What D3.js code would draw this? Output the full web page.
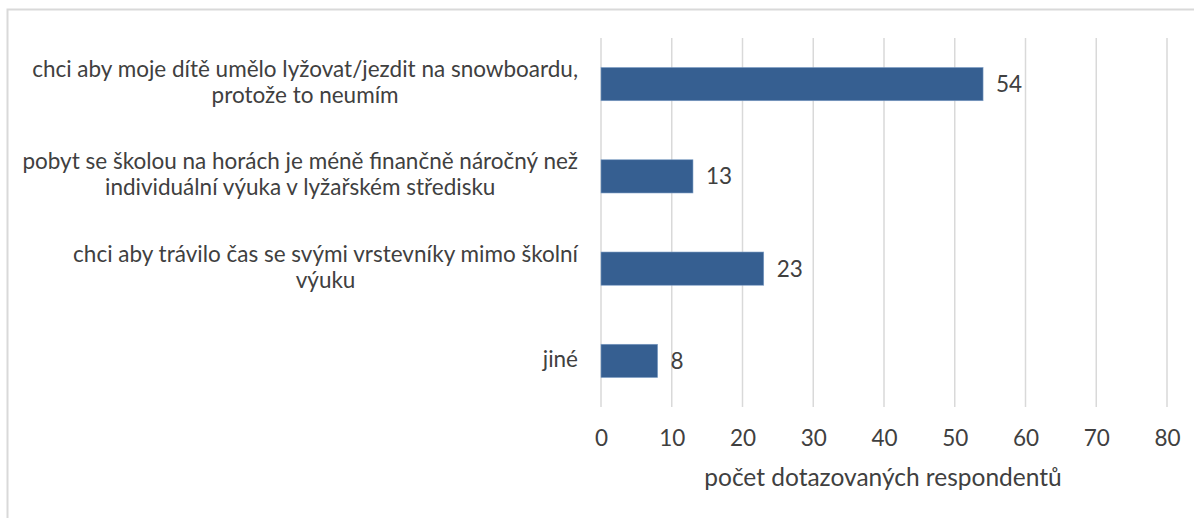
<!DOCTYPE html>
<html><head><meta charset="utf-8">
<script src="https://cdn.jsdelivr.net/npm/d3@7"></script>
<style>
html,body{margin:0;padding:0;background:#fff;}
svg text{font-family:Lato, "Open Sans", sans-serif;fill:#404040;}
</style></head>
<body><svg id="c" width="1194" height="518"></svg>
<script>
const categories = [
  ["chci aby moje dítě umělo lyžovat/jezdit na snowboardu,", "protože to neumím"],
  ["pobyt se školou na horách je méně finančně náročný než", "individuální výuka v lyžařském středisku"],
  ["chci aby trávilo čas se svými vrstevníky mimo školní", "výuku"],
  ["jiné"]
];
const values = [54, 13, 23, 8];
const xTicks = [0, 10, 20, 30, 40, 50, 60, 70, 80];
const xTitle = "počet dotazovaných respondentů";

const FS = "22.5px";
const svg = d3.select("#c");
const margin = {left: 601, right: 27, top: 38, bottom: 111};
const W = 1194, H = 518;

svg.append("rect").attr("x", 7.5).attr("y", 9.5).attr("width", 1300).attr("height", 600)
  .attr("fill", "none").attr("stroke", "#d9d9d9").attr("stroke-width", 2);

const x = d3.scaleLinear().domain([0, 80]).range([margin.left, W - margin.right]);
const y = d3.scaleBand().domain(d3.range(categories.length)).range([margin.top, H - margin.bottom]).paddingInner(0.64).paddingOuter(0.32);

// gridlines
svg.append("g").selectAll("line").data(xTicks).join("line")
  .attr("x1", d => x(d)).attr("x2", d => x(d))
  .attr("y1", margin.top).attr("y2", H - margin.bottom)
  .attr("stroke", "#d9d9d9").attr("stroke-width", 1.5);

// x axis labels
const xAxis = d3.axisBottom(x).tickValues(xTicks).tickSize(0).tickPadding(0);
const gx = svg.append("g").attr("transform", `translate(0,${H - margin.bottom})`).call(xAxis);
gx.select(".domain").remove();
gx.selectAll("text").attr("y", 31).attr("dy", "0.35em").style("font-size", FS).attr("fill", "#404040");

svg.append("text").attr("x", (x(0) + x(80)) / 2 - 1).attr("y", 477).attr("dy", "0.35em")
  .attr("text-anchor", "middle").style("font-size", "24.5px").text(xTitle);

// bars
svg.append("g").selectAll("rect").data(values).join("rect")
  .attr("x", x(0)).attr("y", (d, i) => y(i))
  .attr("width", d => x(d) - x(0)).attr("height", y.bandwidth())
  .attr("fill", "#365f91").attr("stroke", "#7b9cc4").attr("stroke-width", 0.6);

// value labels
svg.append("g").selectAll("text").data(values).join("text")
  .attr("x", d => x(d) + 13).attr("y", (d, i) => y(i) + y.bandwidth() / 2).attr("dy", "0.35em")
  .style("font-size", FS).text(d => d);

// category labels: right aligned block, lines centered within block
const lineH = 26;
const gl = svg.append("g");
categories.forEach((lines, i) => {
  const cy = y(i) + y.bandwidth() / 2;
  const g = gl.append("g");
  const texts = lines.map((t, j) => g.append("text")
    .attr("y", cy + (j - (lines.length - 1) / 2) * lineH - 2).attr("dy", "0.35em")
    .style("font-size", FS).attr("text-anchor", "middle").text(t));
  const widths = texts.map(t => t.node().getComputedTextLength());
  const maxW = d3.max(widths);
  const right = x(0) - 23;
  texts.forEach(t => t.attr("x", right - maxW / 2));
});
</script></body></html>
